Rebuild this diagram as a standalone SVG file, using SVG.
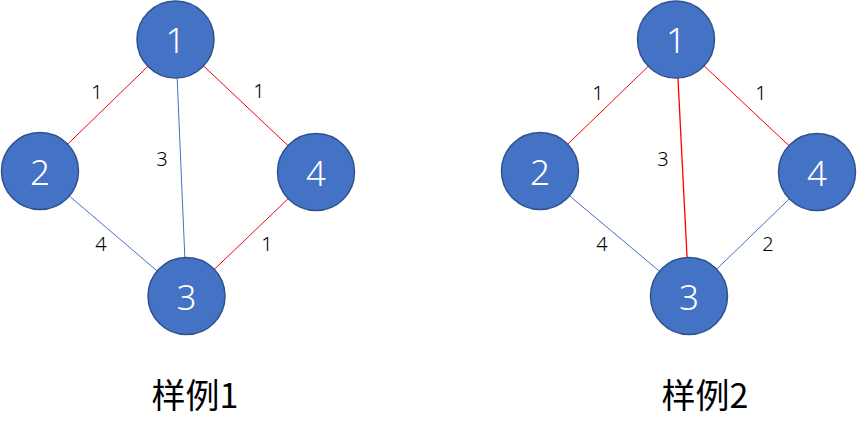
<svg xmlns="http://www.w3.org/2000/svg" width="857" height="440" viewBox="0 0 857 440">
<style>
.node circle{fill:#4472C4;stroke:#2F528F;stroke-width:1.5}
.node text{fill:#fff;font-family:"Noto Sans","DejaVu Sans",sans-serif;font-weight:300;font-size:35px;text-anchor:middle;dominant-baseline:central}
.red{stroke:#FF0000;stroke-width:1}
.blue{stroke:#4472C4;stroke-width:1}
.lbl{fill:#000;font-family:"Noto Sans","DejaVu Sans",sans-serif;font-weight:300;font-size:20px;text-anchor:middle;dominant-baseline:central}
.cap{fill:#000;font-family:"Noto Sans CJK SC",sans-serif;font-size:34px;text-anchor:middle}
</style>
<rect width="857" height="440" fill="#fff"/>
<g id="connectors">
<line class="red" x1="175.5" y1="39.5" x2="40" y2="171"/>
<line class="blue" x1="175.5" y1="39.5" x2="186.5" y2="296"/>
<line class="red" x1="175.5" y1="39.5" x2="316" y2="172"/>
<line class="blue" x1="40" y1="171" x2="186.5" y2="296"/>
<line class="red" x1="316" y1="172" x2="186.5" y2="296"/>
<line class="red" x1="676" y1="39.5" x2="540" y2="171"/>
<line class="red" x1="676" y1="39.5" x2="689" y2="296" style="stroke-width:1.3"/>
<line class="red" x1="676" y1="39.5" x2="817" y2="172"/>
<line class="blue" x1="540" y1="171" x2="689" y2="296"/>
<line class="blue" x1="817" y1="172" x2="689" y2="296"/>
</g>
<g id="edge-labels">
<text class="lbl" x="97" y="91">1</text>
<text class="lbl" x="259" y="90">1</text>
<text class="lbl" x="162" y="158">3</text>
<text class="lbl" x="101" y="243">4</text>
<text class="lbl" x="267" y="243">1</text>
<text class="lbl" x="598" y="92">1</text>
<text class="lbl" x="761" y="92">1</text>
<text class="lbl" x="663" y="158">3</text>
<text class="lbl" x="602" y="243">4</text>
<text class="lbl" x="768" y="243">2</text>
</g>
<g id="a1" class="node"><circle cx="175.5" cy="39.5" r="38.5"/><text x="175.5" y="39.5">1</text></g>
<g id="a2" class="node"><circle cx="40" cy="171" r="38.5"/><text x="40" y="171">2</text></g>
<g id="a3" class="node"><circle cx="186.5" cy="296" r="38.5"/><text x="186.5" y="296">3</text></g>
<g id="a4" class="node"><circle cx="316" cy="172" r="38.5"/><text x="316" y="172">4</text></g>
<g id="b1" class="node"><circle cx="676" cy="39.5" r="38.5"/><text x="676" y="39.5">1</text></g>
<g id="b2" class="node"><circle cx="540" cy="171" r="38.5"/><text x="540" y="171">2</text></g>
<g id="b3" class="node"><circle cx="689" cy="296" r="38.5"/><text x="689" y="296">3</text></g>
<g id="b4" class="node"><circle cx="817" cy="172" r="38.5"/><text x="817" y="172">4</text></g>
<text class="cap" x="195" y="408">样例1</text>
<text class="cap" x="705" y="408">样例2</text>
</svg>
